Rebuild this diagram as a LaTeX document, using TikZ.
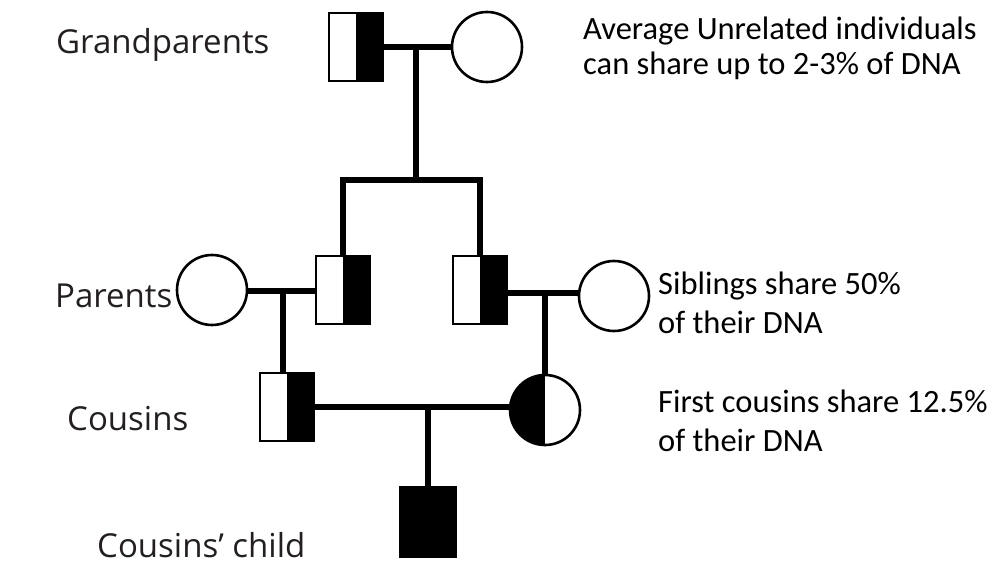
\documentclass[tikz,border=0pt]{standalone}
\usepackage{fontspec}
\setmainfont{Carlito}
\newfontfamily\genfont{Open Sans}
\usepackage{xcolor}
\usepackage{tikz}
\definecolor{labelgray}{HTML}{231F20}

\begin{document}
\begin{tikzpicture}[x=1pt, y=-1pt,
	male/.style={draw, line width=2.6pt, fill=white, inner sep=0pt, minimum width=54pt, minimum height=68pt,
		path picture={\fill[black] (path picture bounding box.north) rectangle (path picture bounding box.south east);}},
	female/.style={draw, circle, line width=2.6pt, fill=white, inner sep=0pt, minimum size=70pt},
	link/.style={line width=5.5pt, line join=miter},
	gen/.style={anchor=west, inner sep=0pt, text=labelgray, font=\genfont\fontsize{33}{38}\selectfont},
	note/.style={anchor=west, inner sep=0pt, align=left}]
		\useasboundingbox (0,0) rectangle (988,564);
		% grandparents
		\node[male] (gpa) at (356,47) {};
		\node[female] (gma) at (487,47) {};
		\node[gen] (lgrand) at (56,45) {Grandparents};
		% parents
		\node[female] (lma) at (212,290) {};
		\node[male] (lpa) at (343,290) {};
		\node[male] (rpa) at (480,290) {};
		\node[female] (rma) at (614,296) {};
		\node[gen] (lparents) at (55,296) {Parents};
		% cousins
		\node[male] (lcous) at (287,407) {};
		\node[female, path picture={\fill[black] (path picture bounding box.south west) rectangle (path picture bounding box.north);}] (rcous) at (545,410) {};
		\node[gen] (lcousins) at (67,419) {Cousins};
		% child
		\node[male, fill=black, minimum width=56pt, minimum height=70pt] (child) at (428,522) {};
		\node[gen] (lchild) at (97,545) {Cousins’ child};
		% couples and descent lines
		\coordinate (gpmid) at (416,47);
		\coordinate (sibs) at (416,180);
		\coordinate (lmid) at (283,291);
		\coordinate (rmid) at (545,293);
		\coordinate (cmid) at (428,407);
		\draw[link] (gpa.east) -- (gma.west);
		\draw[link] (gpmid) -- (sibs);
		\draw[link] (lpa.north) |- (sibs) -| (rpa.north);
		\draw[link] (lma.east |- lmid) -- (lpa.west |- lmid);
		\draw[link] (lmid) -- (lcous.north -| lmid);
		\draw[link] (rpa.east |- rmid) -- (rma.west |- rmid);
		\draw[link] (rmid) -- (rcous.north);
		\draw[link] (lcous.east |- cmid) -- (rcous.west |- cmid);
		\draw[link] (cmid) -- (child.north);
		% notes
		\node[note, font=\fontsize{32.5}{35}\selectfont] (nunrel) at (583,48) {Average Unrelated individuals\\can share up to 2-3\% of DNA};
		\node[note, font=\fontsize{32.5}{39}\selectfont] (nsibs) at (658,303) {Siblings share 50\%\\of their DNA};
		\node[note, font=\fontsize{32.5}{39}\selectfont] (ncous) at (658,421) {First cousins share 12.5\%\\of their DNA};
	\end{tikzpicture}
\end{document}
